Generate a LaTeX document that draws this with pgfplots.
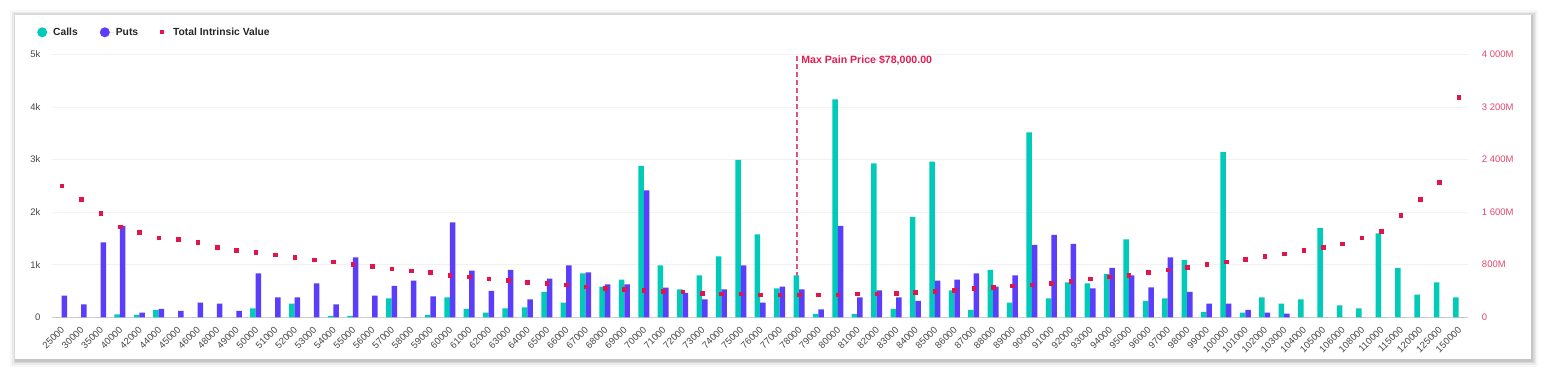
\documentclass[border=0pt]{standalone}
\usepackage{pgfplots}
\pgfplotsset{compat=1.18}
\usepackage{pgfplotstable}
\usepackage{fontspec}
\setmainfont{Liberation Sans}
\definecolor{callc}{RGB}{0,203,185}
\definecolor{putc}{RGB}{90,62,252}
\definecolor{tivc}{RGB}{225,20,75}
\definecolor{maxline}{RGB}{230,80,125}
\definecolor{maxtext}{RGB}{225,30,80}
\definecolor{rtick}{RGB}{228,72,108}
\definecolor{gridc}{RGB}{241,241,241}
\definecolor{ticktext}{RGB}{70,70,70}

\pgfplotstableread{
idx call put tiv
0 0 410 2003
1 0 247 1800
2 0 1426 1582
3 57 1736 1379
4 44 89 1298
5 139 158 1212
6 0 120 1186
7 0 279 1146
8 0 260 1065
9 0 120 1024
10 171 837 994
11 0 380 953
12 260 380 918
13 0 646 877
14 25 247 847
15 25 1141 806
16 0 412 781
17 361 596 740
18 0 697 710
19 44 399 684
20 380 1806 644
21 158 887 618
22 89 500 588
23 171 900 563
24 190 342 537
25 482 735 522
26 279 989 497
27 837 856 466
28 583 627 441
29 716 627 426
30 2877 2414 411
31 989 564 400
32 532 463 390
33 798 342 370
34 1160 532 360
35 2991 989 360
36 1578 279 345
37 551 583 345
38 798 532 345
39 63 152 345
40 4144 1736 345
41 63 380 360
42 2928 513 360
43 158 380 370
44 1907 311 385
45 2959 697 400
46 513 716 416
47 139 837 441
48 900 583 456
49 279 798 482
50 3517 1375 497
51 361 1565 522
52 665 1394 548
53 646 551 588
54 824 938 618
55 1483 798 644
56 311 570 684
57 361 1141 725
58 1090 482 766
59 101 260 806
60 3143 260 847
61 89 139 887
62 380 89 933
63 260 70 968
64 342 0 1024
65 1698 0 1065
66 228 0 1120
67 171 0 1212
68 1597 0 1308
69 938 0 1551
70 431 0 1800
71 665 0 2058
72 380 0 3346
}\datatable

\begin{document}
\begin{tikzpicture}[x=1pt,y=1pt]
\useasboundingbox (0,0) rectangle (1544,377);
% card with soft shadow
\foreach \k/\o in {6/0.03,4/0.05,2.5/0.07,1.2/0.09}{
  \fill[black,opacity=\o] (15-\k+1,18-\k-2) rectangle (1531+\k+1,362+\k-1);
}
\fill[white] (15,18) rectangle (1531,362);

\begin{axis}[
  at={(52pt,59.7pt)}, anchor=south west,
  width=1416.5pt, height=263pt, scale only axis,
  xmin=-0.5, xmax=72.5, ymin=0, ymax=5000,
  ybar=0pt, bar width=5.5pt,
  axis line style={draw=none},
  major tick length=0pt,
  ymajorgrids, grid style={gridc, line width=0.8pt},
  ytick={0,1000,2000,3000,4000,5000},
  yticklabels={0,1k,2k,3k,4k,5k},
  yticklabel style={font=\fontsize{9.5}{11}\selectfont, text=ticktext, xshift=-8pt},
  xtick={0,...,72},
  xticklabels={25000,30000,35000,40000,42000,44000,45000,46000,48000,49000,50000,51000,52000,53000,54000,55000,56000,57000,58000,59000,60000,61000,62000,63000,64000,65000,66000,67000,68000,69000,70000,71000,72000,73000,74000,75000,76000,77000,78000,79000,80000,81000,82000,83000,84000,85000,86000,87000,88000,89000,90000,91000,92000,93000,94000,95000,96000,97000,98000,99000,100000,101000,102000,103000,104000,105000,106000,108000,110000,115000,120000,125000,150000},
  xticklabel style={rotate=45, anchor=north east, font=\fontsize{9.5}{11}\selectfont, text=ticktext, inner sep=1pt, yshift=-4pt, xshift=-6pt},
  legend columns=3,
  legend style={draw=none, fill=none, at={(-0.0127,1.0837)}, anchor=west,
    font=\bfseries\fontsize{10.3}{12}\selectfont, text=black!85,
    /tikz/every even column/.append style={column sep=20pt}},
]
\draw[gridc!70!gray, line width=0.8pt] (axis cs:-0.5,0) -- (axis cs:72.5,0);
\draw[maxline, line width=1.3pt, dash pattern=on 5pt off 3pt] (axis cs:37.9,0) -- (axis cs:37.9,5000);
\node[anchor=north west, text=maxtext, font=\bfseries\fontsize{10.6}{12}\selectfont, inner sep=0pt, xshift=4pt, yshift=-1pt] at (axis cs:37.9,5000) {Max Pain Price \$78,000.00};
\addplot[fill=callc, draw=none, legend image code/.code={\fill[callc] (0pt,0pt) circle (5pt); \path[draw=none] (0pt,0pt) -- (9pt,0pt);}] table[x=idx, y=call] {\datatable};
\addlegendentry{Calls}
\addplot[fill=putc, draw=none, legend image code/.code={\fill[putc] (0pt,0pt) circle (5pt); \path[draw=none] (0pt,0pt) -- (9pt,0pt);}] table[x=idx, y=put] {\datatable};
\addlegendentry{Puts}
\addlegendimage{draw=none, legend image code/.code={\fill[tivc] (-2pt,-2pt) rectangle (2pt,2pt); \path[draw=none] (0pt,0pt) -- (9pt,0pt);}}
\addlegendentry{Total Intrinsic Value}
\end{axis}

\begin{axis}[
  at={(52pt,59.7pt)}, anchor=south west,
  width=1416.5pt, height=263pt, scale only axis,
  xmin=-0.5, xmax=72.5, ymin=0, ymax=4000,
  axis y line*=right, axis x line=none,
  axis line style={draw=none},
  major tick length=0pt,
  ytick={0,800,1600,2400,3200,4000},
  yticklabels={0,800M,1 600M,2 400M,3 200M,4 000M},
  yticklabel style={font=\fontsize{9.5}{11}\selectfont, text=rtick, xshift=10pt},
]
\addplot[only marks, mark=square*, mark size=1.8pt, color=tivc] table[x=idx, y=tiv] {\datatable};
\end{axis}
\end{tikzpicture}
\end{document}
